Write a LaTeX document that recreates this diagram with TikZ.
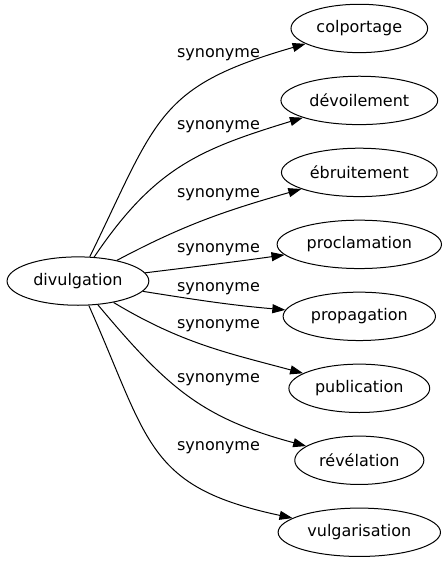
\documentclass[tikz,border=0pt]{standalone}
\usepackage{fontspec}
\setmainfont{DejaVu Sans}
\usetikzlibrary{arrows.meta,shapes.geometric}

\begin{document}
\begin{tikzpicture}[x=1cm,y=1cm]
\tikzset{
  wordnode/.style={ellipse,draw,line width=1pt,minimum height=1.7cm,inner xsep=5.5pt,font=\fontsize{16pt}{19pt}\selectfont},
  synedge/.style={-{Triangle[length=13pt,width=9pt]},line width=1pt},
  synlabel/.style={anchor=base,inner sep=0pt,font=\fontsize{16pt}{19pt}\selectfont}
}
\useasboundingbox (0,0) rectangle (15.71,19.79);
\node[wordnode] (n_div) at (2.74,9.91) {divulgation};
\node[wordnode] (n_col) at (12.63,18.79) {colportage};
\node[wordnode] (n_dev) at (12.63,16.26) {dévoilement};
\node[wordnode] (n_ebr) at (12.63,13.73) {ébruitement};
\node[wordnode] (n_pro) at (12.63,11.20) {proclamation};
\node[wordnode] (n_pag) at (12.63,8.67) {propagation};
\node[wordnode] (n_pub) at (12.63,6.14) {publication};
\node[wordnode] (n_rev) at (12.63,3.61) {révélation};
\node[wordnode] (n_vul) at (12.63,1.08) {vulgarisation};
\node[synlabel] (l_col) at (7.68,17.78) {synonyme};
\node[synlabel] (l_dev) at (7.68,15.25) {synonyme};
\node[synlabel] (l_ebr) at (7.68,12.86) {synonyme};
\node[synlabel] (l_pro) at (7.68,10.90) {synonyme};
\node[synlabel] (l_pag) at (7.68,9.56) {synonyme};
\node[synlabel] (l_pub) at (7.68,8.26) {synonyme};
\node[synlabel] (l_rev) at (7.68,6.33) {synonyme};
\node[synlabel] (l_vul) at (7.68,3.97) {synonyme};
\draw[synedge] (n_div) to[out=64,in=196,looseness=1.3] (n_col);
\draw[synedge] (n_div) to[out=56,in=197,looseness=1.1] (n_dev);
\draw[synedge] (n_div) to[out=28,in=196] (n_ebr);
\draw[synedge] (n_div) to[out=7,in=188] (n_pro);
\draw[synedge] (n_div) to[out=-9,in=175] (n_pag);
\draw[synedge] (n_div) to[out=-31,in=165] (n_pub);
\draw[synedge] (n_div) to[out=-50,in=165,looseness=1.1] (n_rev);
\draw[synedge] (n_div) to[out=-66,in=168,looseness=1.3] (n_vul);
\end{tikzpicture}
\end{document}
